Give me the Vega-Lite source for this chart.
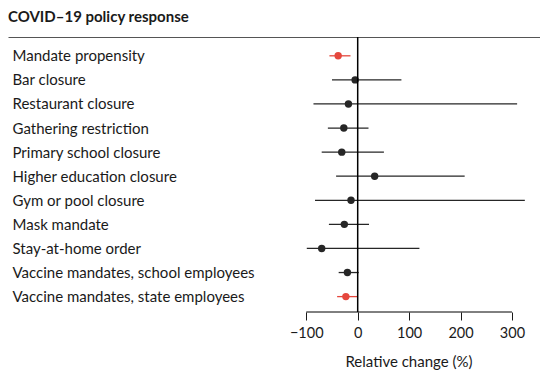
{
  "$schema": "https://vega.github.io/schema/vega-lite/v6.json",
  "width": 540,
  "height": 373,
  "autosize": {"type": "fit", "contains": "padding"},
  "padding": {"left": 8, "right": 0, "top": 10, "bottom": 3},
  "background": "white",
  "config": {"font": "Lato", "view": {"stroke": null}},
  "title": {"text": "COVID–19 policy response", "anchor": "start", "fontSize": 15, "fontWeight": "bold", "color": "#1a1a1a", "offset": 11, "frame": "group"},
  "resolve": {"axis": {"x": "independent"}},
  "layer": [
    {
      "data": {"name": "main", "values": [
        {"policy": "Mandate propensity", "est": -38, "lo": -55, "hi": -14, "highlight": "yes"},
        {"policy": "Bar closure", "est": -5, "lo": -50, "hi": 85, "highlight": "no"},
        {"policy": "Restaurant closure", "est": -18, "lo": -86, "hi": 310, "highlight": "no"},
        {"policy": "Gathering restriction", "est": -27, "lo": -58, "hi": 21, "highlight": "no"},
        {"policy": "Primary school closure", "est": -31, "lo": -70, "hi": 51, "highlight": "no"},
        {"policy": "Higher education closure", "est": 33, "lo": -42, "hi": 208, "highlight": "no"},
        {"policy": "Gym or pool closure", "est": -13, "lo": -83, "hi": 325, "highlight": "no"},
        {"policy": "Mask mandate", "est": -26, "lo": -56, "hi": 22, "highlight": "no"},
        {"policy": "Stay-at-home order", "est": -70, "lo": -99, "hi": 120, "highlight": "no"},
        {"policy": "Vaccine mandates, school employees", "est": -20, "lo": -37, "hi": 2, "highlight": "no"},
        {"policy": "Vaccine mandates, state employees", "est": -23, "lo": -40, "hi": -1, "highlight": "yes"}
      ]},
      "mark": {"type": "rule", "strokeWidth": 1.3},
      "encoding": {
        "x": {"field": "lo", "type": "quantitative", "scale": {"domain": [-680, 354.5], "nice": false, "zero": false},
              "axis": {"orient": "bottom", "values": [-100, 0, 100, 200, 300], "domain": false, "grid": false, "tickColor": "#1a1a1a", "tickSize": 8, "tickWidth": 1, "labelFontSize": 14.5, "labelColor": "#1a1a1a", "labelPadding": 6, "title": "Relative change (%)", "titleFontSize": 15, "titleFontWeight": "normal", "titleColor": "#1a1a1a", "titleX": 400.5, "titlePadding": 15}},
        "x2": {"field": "hi"},
        "y": {"field": "policy", "type": "nominal", "sort": null, "scale": {"type": "point", "padding": 0.71, "align": 0.55},
              "axis": {"title": null, "domain": false, "ticks": false, "grid": false, "labelAlign": "left", "labelPadding": -4, "labelFontSize": 15, "labelColor": "#1a1a1a", "labelLimit": 400}},
        "color": {"field": "highlight", "type": "nominal", "scale": {"domain": ["yes", "no"], "range": ["#e5473d", "#262626"]}, "legend": null}
      }
    },
    {
      "data": {"name": "main"},
      "mark": {"type": "point", "filled": true, "size": 55, "opacity": 1},
      "encoding": {
        "x": {"field": "est", "type": "quantitative",
              "axis": {"orient": "top", "labels": false, "ticks": false, "grid": false, "title": null, "domain": true, "domainColor": "#555555", "domainWidth": 1}},
        "y": {"field": "policy", "type": "nominal", "sort": null,
              "axis": {"title": null, "domain": false, "ticks": false, "grid": false, "labelAlign": "left", "labelPadding": -4, "labelFontSize": 15, "labelColor": "#1a1a1a", "labelLimit": 400}},
        "color": {"field": "highlight", "type": "nominal", "legend": null}
      }
    },
    {
      "data": {"values": [{}]},
      "mark": {"type": "rule", "color": "#000000", "strokeWidth": 1.5},
      "encoding": {"x": {"datum": 0, "type": "quantitative", "axis": null}}
    },
    {
      "data": {"values": [{}]},
      "mark": {"type": "rule", "color": "#000000", "strokeWidth": 1},
      "encoding": {"x": {"datum": -100, "type": "quantitative", "axis": null}, "x2": {"datum": 300}, "y": {"value": "height"}}
    }
  ]
}
